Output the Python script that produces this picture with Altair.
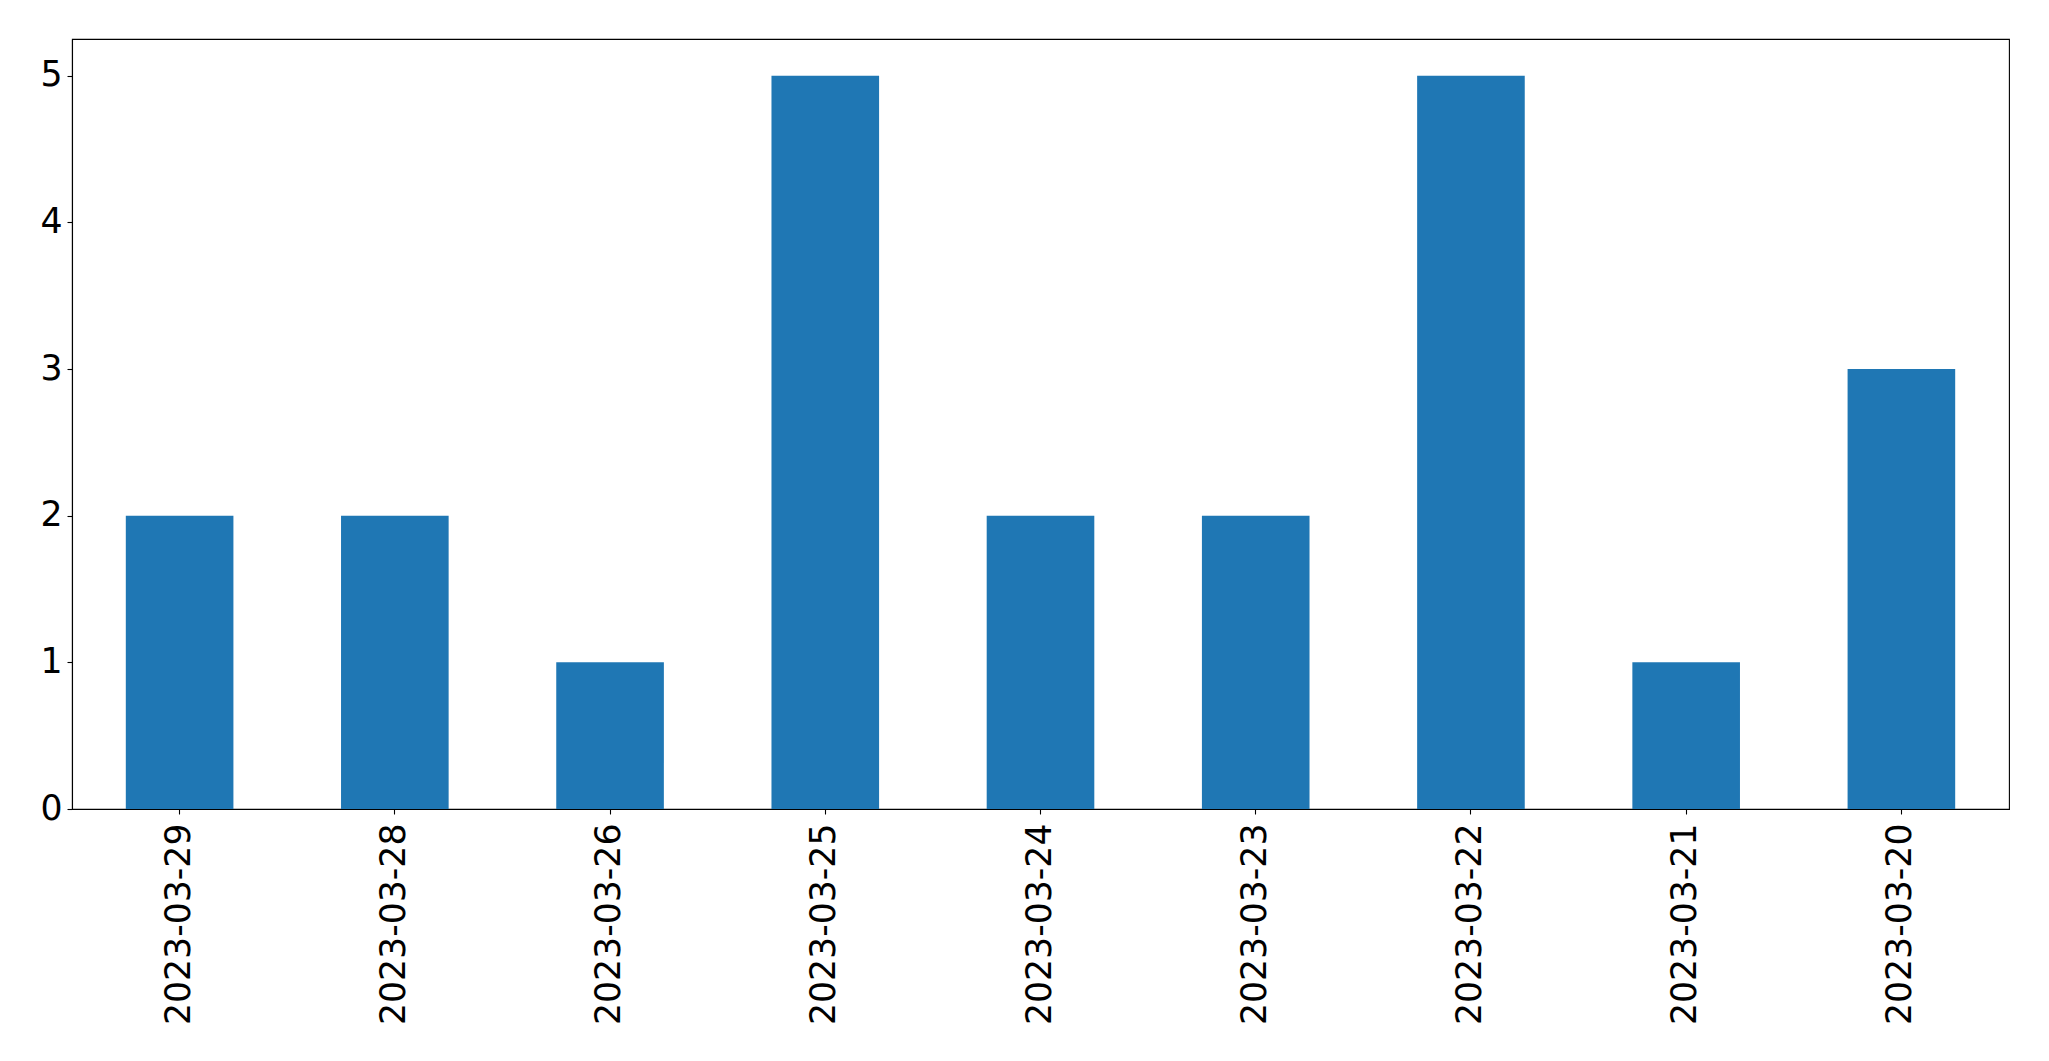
import altair as alt
import pandas as pd

dates = ["2023-03-29", "2023-03-28", "2023-03-26", "2023-03-25", "2023-03-24",
         "2023-03-23", "2023-03-22", "2023-03-21", "2023-03-20"]
counts = [2, 2, 1, 5, 2, 2, 5, 1, 3]
y_ticks = [0, 1, 2, 3, 4, 5]

df = pd.DataFrame({"date": dates, "count": counts})

FONT = "DejaVu Sans"
FS = 34.7

chart = alt.Chart(df).mark_bar(color="#1f77b4").encode(
    x=alt.X("date:N", sort=dates, title=None,
            scale=alt.Scale(paddingInner=0.5, paddingOuter=0.25),
            axis=alt.Axis(labelAngle=270, labelAlign="right", labelBaseline="middle",
                          labelPadding=9, tickSize=5, tickWidth=1.1, tickColor="black",
                          domainColor="black", domainWidth=1.1, labelColor="black",
                          labelFont=FONT, labelFontSize=FS, labelLimit=0, grid=False)),
    y=alt.Y("count:Q", title=None,
            scale=alt.Scale(domain=[0, 5.25], nice=False, zero=True),
            axis=alt.Axis(values=y_ticks, format="d", tickSize=5, tickWidth=1.1,
                          tickColor="black", domainColor="black", domainWidth=1.1,
                          labelColor="black", labelFont=FONT, labelFontSize=FS,
                          labelPadding=5, grid=False)),
).properties(
    width=1937,
    height=770,
    autosize=alt.AutoSizeParams(type="none"),
    padding={"left": 72, "top": 39, "right": 40, "bottom": 252},
    background="white",
).configure_view(
    stroke="black", strokeWidth=1.1
)

chart.save("out.html", embed_options={"renderer": "svg", "actions": False})
